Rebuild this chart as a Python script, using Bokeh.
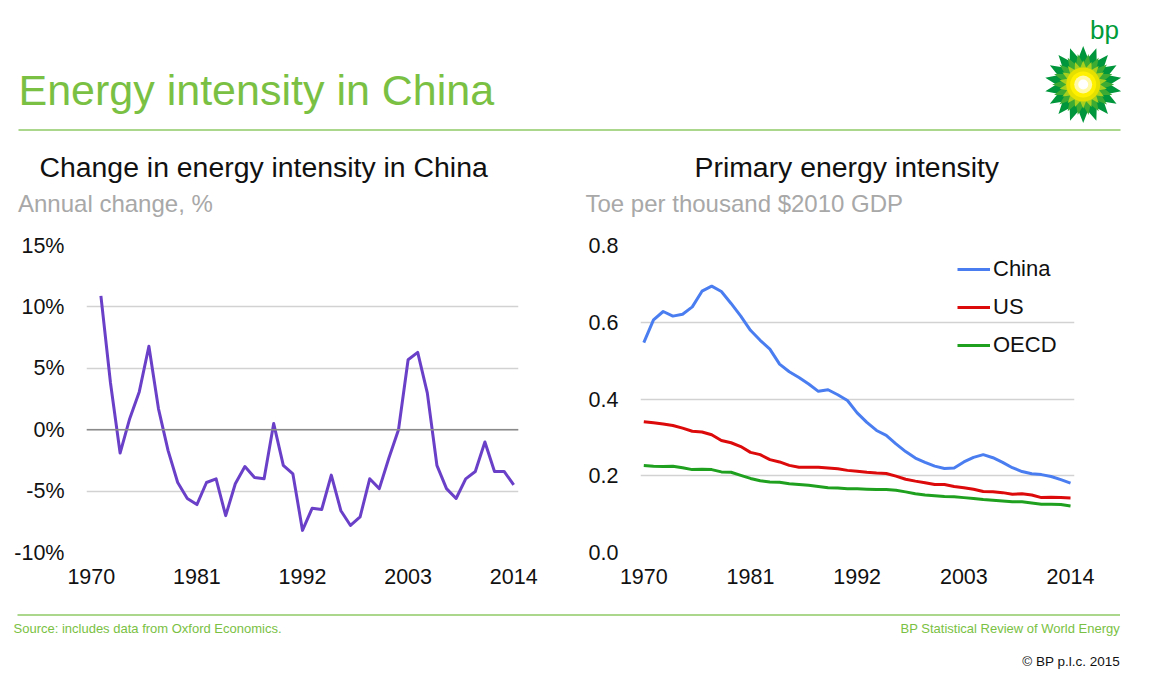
import numpy as np
from bokeh.plotting import figure
from bokeh.layouts import column, row
from bokeh.models import (Range1d, FixedTicker, PrintfTickFormatter, Span,
                          Legend, LegendItem)
from bokeh.core.properties import value
from bokeh.embed import file_html
from bokeh.resources import INLINE

# ---------------- data ----------------
change_years = list(range(1971, 2015))
change_pct = [10.9, 3.8, -1.9, 0.9, 3.1, 6.8, 1.7, -1.7, -4.3, -5.6,
              -6.1, -4.3, -4.0, -7.0, -4.4, -3.0, -3.9, -4.0, 0.5, -2.9,
              -3.6, -8.2, -6.4, -6.5, -3.7, -6.6, -7.8, -7.1, -4.0, -4.8,
              -2.3, 0.0, 5.7, 6.3, 3.0, -2.9, -4.8, -5.6, -4.0, -3.4,
              -1.0, -3.4, -3.4, -4.5]

intensity_years = list(range(1970, 2015))
china = [0.547, 0.606, 0.628, 0.616, 0.621, 0.640, 0.681, 0.694, 0.680, 0.649,
         0.616, 0.579, 0.553, 0.530, 0.491, 0.471, 0.456, 0.439, 0.420, 0.424,
         0.411, 0.396, 0.364, 0.339, 0.318, 0.305, 0.283, 0.263, 0.246, 0.235,
         0.225, 0.219, 0.220, 0.236, 0.248, 0.255, 0.247, 0.235, 0.221, 0.211,
         0.205, 0.203, 0.198, 0.190, 0.181]
us = [0.341, 0.338, 0.335, 0.331, 0.324, 0.316, 0.314, 0.307, 0.292, 0.286,
      0.276, 0.261, 0.255, 0.242, 0.236, 0.227, 0.222, 0.222, 0.222, 0.220,
      0.218, 0.214, 0.212, 0.209, 0.207, 0.206, 0.199, 0.191, 0.186, 0.182,
      0.177, 0.177, 0.172, 0.169, 0.165, 0.159, 0.158, 0.156, 0.152, 0.153,
      0.150, 0.143, 0.144, 0.143, 0.142]
oecd = [0.227, 0.225, 0.224, 0.225, 0.221, 0.216, 0.217, 0.216, 0.210, 0.209,
        0.201, 0.193, 0.187, 0.184, 0.183, 0.179, 0.177, 0.175, 0.172, 0.169,
        0.168, 0.166, 0.166, 0.165, 0.164, 0.164, 0.162, 0.158, 0.153, 0.150,
        0.148, 0.146, 0.145, 0.143, 0.141, 0.138, 0.136, 0.134, 0.132, 0.132,
        0.129, 0.126, 0.126, 0.125, 0.121]

x_ticks = [1970, 1981, 1992, 2003, 2014]
left_y_ticks = [-10, -5, 0, 5, 10, 15]
right_y_ticks = [0.0, 0.2, 0.4, 0.6, 0.8]

FONT = "Liberation Sans"
GREEN = "#7ac143"
RULE_GREEN = "#8fca66"


def bare(p):
    p.grid.visible = False
    p.outline_line_color = None
    p.background_fill_color = "white"
    p.border_fill_color = "white"
    return p


# ---------------- header ----------------
hdr = figure(width=1156, height=225, x_range=Range1d(0, 1156), y_range=Range1d(225, 0),
             x_axis_location=None, y_axis_location=None, toolbar_location=None,
             output_backend="svg", min_border_left=0, min_border_right=0,
             min_border_top=0, min_border_bottom=0)
bare(hdr)

hdr.text(x=[18], y=[89], text=["Energy intensity in China"], text_font=value(FONT),
         text_font_size=value("43px"), text_color=GREEN, text_baseline="middle",
         text_align="left")
hdr.segment(x0=[18], y0=[129.5], x1=[1120], y1=[129.5], line_color=RULE_GREEN, line_width=1.5)

# chart titles / units
hdr.text(x=[39, 694], y=[166.7, 166.7],
         text=["Change in energy intensity in China", "Primary energy intensity"],
         text_font=value(FONT), text_font_size=value("28.4px"), text_color="#111111",
         text_baseline="middle", text_align="left")
hdr.text(x=[17.5, 585], y=[203.3, 203.3],
         text=["Annual change, %", "Toe per thousand $2010 GDP"],
         text_font=value(FONT), text_font_size=value("24px"), text_color="#a8a8a8",
         text_baseline="middle", text_align="left")

# bp logo
cx, cy = 1082.7, 84.0


def star(n, r_out, r_in, rot):
    ang = np.arange(2 * n) * np.pi / n + rot
    rr = np.where(np.arange(2 * n) % 2 == 0, r_out, r_in)
    return list(cx + rr * np.cos(ang)), list(cy + rr * np.sin(ang))


sx1, sy1 = star(18, 38.5, 27, -np.pi / 2)
sx2, sy2 = star(18, 31, 21, -np.pi / 2 + np.pi / 18)
sx3, sy3 = star(18, 24, 17, -np.pi / 2)
hdr.patches(xs=[sx1, sx2, sx3], ys=[sy1, sy2, sy3],
            fill_color=["#00963c", "#3cab34", "#a6cf1e"], line_color=None)
hdr.circle(x=[cx] * 4, y=[cy] * 4, radius=[17, 13, 9, 5],
           fill_color=["#e6e000", "#fff000", "#fff9a8", "#ffffff"], line_color=None)
hdr.text(x=[1089.5], y=[29.5], text=["bp"], text_font=value(FONT), text_font_size=value("26px"),
         text_color="#009b3a", text_baseline="middle", text_align="left")


def style_axes(p):
    for ax in (p.xaxis[0], p.yaxis[0]):
        ax.axis_line_color = None
        ax.major_tick_line_color = None
        ax.minor_tick_line_color = None
        ax.major_tick_out = 0
        ax.major_tick_in = 0
        ax.major_label_text_font = FONT
        ax.major_label_text_font_size = "21.5px"
        ax.major_label_text_color = "#111111"
    p.xaxis[0].major_label_standoff = 16
    p.yaxis[0].major_label_standoff = 22
    p.xgrid.visible = False
    p.ygrid.grid_line_color = "#d2d2d2"
    p.ygrid.grid_line_width = 1.3
    p.outline_line_color = None
    p.background_fill_color = "white"
    p.border_fill_color = "white"


# ---------------- left chart ----------------
left = figure(width=578, height=388, x_range=Range1d(1969.5, 2014.5), y_range=Range1d(-10, 15),
              toolbar_location=None, output_backend="svg",
              min_border_left=86, min_border_right=60, min_border_top=20, min_border_bottom=61)
style_axes(left)
left.xaxis[0].ticker = FixedTicker(ticks=x_ticks)
left.xaxis[0].formatter = PrintfTickFormatter(format="%d")
left.yaxis[0].ticker = FixedTicker(ticks=left_y_ticks)
left.yaxis[0].formatter = PrintfTickFormatter(format="%d%%")
left.ygrid.ticker = FixedTicker(ticks=left_y_ticks)
left.add_layout(Span(location=0, dimension="width", line_color="#8a8a8a", line_width=1.5))
left.line(change_years, change_pct, line_color="#6a40c8", line_width=3, line_join="round")

# ---------------- right chart ----------------
right = figure(width=578, height=388, x_range=Range1d(1969.66, 2014.41), y_range=Range1d(0, 0.8),
               toolbar_location=None, output_backend="svg",
               min_border_left=62, min_border_right=82, min_border_top=19, min_border_bottom=61)
style_axes(right)
right.xaxis[0].ticker = FixedTicker(ticks=x_ticks)
right.xaxis[0].formatter = PrintfTickFormatter(format="%d")
right.yaxis[0].ticker = FixedTicker(ticks=right_y_ticks)
right.yaxis[0].formatter = PrintfTickFormatter(format="%.1f")
right.ygrid.ticker = FixedTicker(ticks=right_y_ticks)
r_c = right.line(intensity_years, china, line_color="#4a7ef0", line_width=3, line_join="round")
r_u = right.line(intensity_years, us, line_color="#dc0a0a", line_width=3, line_join="round")
r_o = right.line(intensity_years, oecd, line_color="#1fa01f", line_width=3, line_join="round")
legend = Legend(items=[LegendItem(label="China", renderers=[r_c]),
                       LegendItem(label="US", renderers=[r_u]),
                       LegendItem(label="OECD", renderers=[r_o])],
                location=(317, 188), glyph_width=33, glyph_height=38, label_height=38,
                label_standoff=3, spacing=0, padding=0, margin=0,
                label_text_font=FONT, label_text_font_size="22px", label_text_color="#111111",
                border_line_color=None, background_fill_alpha=0)
right.add_layout(legend)

# ---------------- footer ----------------
ftr = figure(width=1156, height=77, x_range=Range1d(0, 1156), y_range=Range1d(690, 613),
             x_axis_location=None, y_axis_location=None, toolbar_location=None,
             output_backend="svg", min_border_left=0, min_border_right=0,
             min_border_top=0, min_border_bottom=0)
bare(ftr)
ftr.segment(x0=[17], y0=[614.5], x1=[1119.5], y1=[614.5], line_color=RULE_GREEN, line_width=1.5)
ftr.text(x=[13], y=[628], text=["Source: includes data from Oxford Economics."],
         text_font=value(FONT), text_font_size=value("13px"), text_color=GREEN,
         text_baseline="middle", text_align="left")
ftr.text(x=[1119.5], y=[628], text=["BP Statistical Review of World Energy"],
         text_font=value(FONT), text_font_size=value("13px"), text_color=GREEN,
         text_baseline="middle", text_align="right")
ftr.text(x=[1119.5], y=[661], text=["\u00a9 BP p.l.c. 2015"],
         text_font=value(FONT), text_font_size=value("13.5px"), text_color="#111111",
         text_baseline="middle", text_align="right")

layout = column(hdr, row(left, right, spacing=0), ftr, spacing=0)
open("out.html", "w").write(file_html(layout, INLINE))
